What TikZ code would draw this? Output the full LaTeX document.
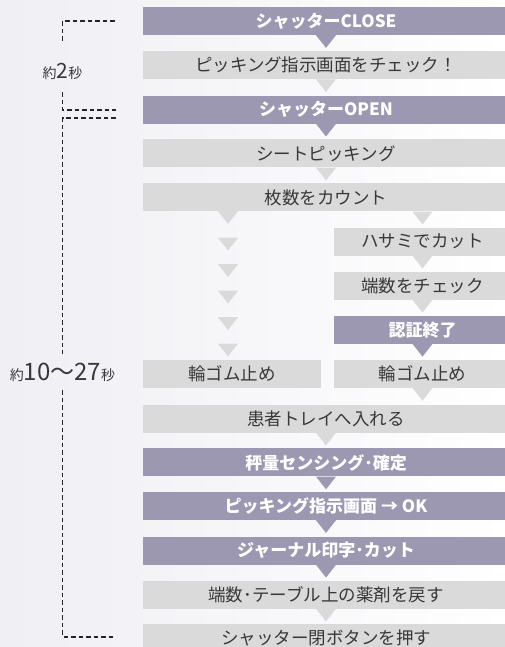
\documentclass[tikz,border=0pt]{standalone}
\usepackage{fontspec}
\setmainfont{Noto Sans CJK JP}
\usetikzlibrary{calc}

\definecolor{lav}{HTML}{9C98B2}
\definecolor{lgray}{HTML}{DADADA}
\definecolor{ink}{HTML}{383838}
\definecolor{bgl}{HTML}{EFEFF4}

\begin{document}
\begin{tikzpicture}[x=1pt,y=-1pt,
    box/.style={minimum height=28pt,inner sep=0pt},
    dark/.style={box,fill=lav,text=white,font=\bfseries\fontsize{17}{17}\selectfont},
    light/.style={box,fill=lgray,text=ink,font=\fontsize{17.5}{17.5}\selectfont},
    bracket/.style={draw=black!85,line width=1.9pt,dash pattern=on 4.5pt off 3pt}]

  \useasboundingbox (0,0) rectangle (505,647);
  \clip (0,0) rectangle (505,647);
  \shade[left color=bgl,right color=white] (0,0) rectangle (505,647);

  % full width rows
  \begin{scope}[every node/.style={minimum width=366pt}]
    \node[dark]  (1)  at (326,21)    {シャッターCLOSE};
    \node[light] (2)  at (326,65.1)  {ピッキング指示画面をチェック！};
    \node[dark]  (3)  at (326,109.6) {シャッターOPEN};
    \node[light] (4)  at (326,153.5) {シートピッキング};
    \node[light] (5)  at (326,197.4) {枚数をカウント};
    \node[light] (11) at (326,418.5) {患者トレイへ入れる};
    \node[dark]  (12) at (326,462.4) {秤量センシング･確定};
    \node[dark]  (13) at (326,506)   {ピッキング指示画面 → OK};
    \node[dark]  (14) at (326,550.6) {ジャーナル印字･カット};
    \node[light] (15) at (326,594.5) {端数･テーブル上の薬剤を戻す};
    \node[light] (16) at (326,638.4) {シャッター閉ボタンを押す};
  \end{scope}

  % split rows
  \begin{scope}[every node/.style={minimum width=178pt}]
    \node[light] (6)  at (422.5,241.5) {ハサミでカット};
    \node[light] (7)  at (422.5,285.6) {端数をチェック};
    \node[dark]  (8)  at (422.5,329.7) {認証終了};
    \node[light] (9)  at (232,373.8)   {輪ゴム止め};
    \node[light] (10) at (422.5,373.8) {輪ゴム止め};
  \end{scope}

  % triangles under the boxes
  \foreach \n/\c in {1/lav,2/lgray,3/lav,4/lgray,6/lgray,7/lgray,8/lav,
                     10/lgray,11/lgray,12/lav,13/lav,14/lav,15/lgray}
    \fill[\c] ($(\n.south)+(-10,0)$) -- ++(20,0) -- ++(-10,12.7) -- cycle;
  \fill[lgray] ($(5.south -| 6.south)+(-10,0)$) -- ++(20,0) -- ++(-10,12.7) -- cycle;
  \foreach \j in {0,...,5}
    \fill[lgray] ($(9.north)+(-14,-15.9-26.5*\j)$) -- ++(20,0) -- ++(-10,12.7) -- cycle;
  \fill[white] ($(1.north)+(-10,-16.7)$) -- ++(20,0) -- ++(-10,12.7) -- cycle;

  % time labels
  \begin{scope}[every node/.style={inner sep=0pt,text=ink}]
    \node[minimum height=28pt] (t2) at (62.5,71)
      {\fontsize{14}{14}\selectfont 約\fontsize{21}{21}\selectfont 2\fontsize{14}{14}\selectfont 秒};
    \node[minimum height=36pt] (t27) at (62.5,372)
      {\fontsize{14}{14}\selectfont 約\fontsize{24}{24}\selectfont 10〜27\fontsize{14}{14}\selectfont 秒};
  \end{scope}

  \draw[bracket] ($(1.west)+(-28,0)$) -| ($(t2.north)+(0,-15)$);
  \draw[bracket] ($(t2.south)+(0,7)$) |- ($(3.west)+(-27,0.4)$);
  \draw[bracket] ($(3.west)+(-27,8.7)$) -| (t27.north);
  \draw[bracket] (t27.south) |- ($(16.west)+(-28,-1.7)$);

\end{tikzpicture}
\end{document}
